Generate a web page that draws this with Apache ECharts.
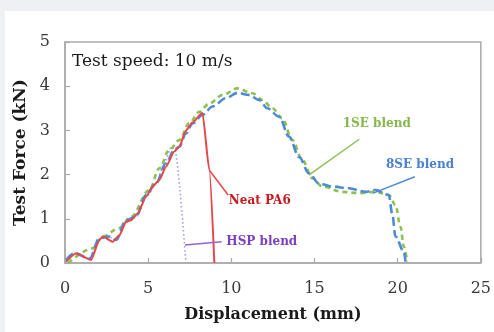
<!DOCTYPE html>
<html>
<head>
<meta charset="utf-8">
<script src="https://cdn.jsdelivr.net/npm/echarts@6/dist/echarts.min.js"></script>
<style>
  html, body { margin: 0; padding: 0; }
  #chart { width: 494px; height: 332px; }
</style>
</head>
<body>
<div id="chart"></div>
<script>
// Neat PA6 (red, solid)
const neatX = [0.07, 0.67, 1.57, 2.07, 2.27, 2.87, 3.27, 3.67, 3.97, 4.37, 4.87, 5.27, 5.67, 6.07, 6.57, 6.87, 7.27, 7.67, 8.26, 8.68, 8.98];
const neatY = [0.03, 0.22, 0.07, 0.52, 0.60, 0.48, 0.63, 0.93, 0.97, 1.12, 1.50, 1.73, 1.88, 2.18, 2.52, 2.63, 3.00, 3.18, 3.40, 2.10, 0];

// HSP blend (purple, dotted)
const hspX = [0.07, 0.6, 1.5, 2.1, 2.7, 3.1, 3.7, 4.3, 4.9, 5.5, 6.0, 6.4, 6.6, 7.27];
const hspY = [0.05, 0.2, 0.1, 0.55, 0.58, 0.52, 0.95, 1.05, 1.5, 1.8, 2.3, 2.63, 2.56, 0];

// 1SE blend (green, dashed)
const se1X = [0.2, 1.67, 2.27, 3.27, 3.97, 5.07, 5.67, 6.27, 6.87, 7.47, 8.07, 8.67, 9.47, 10.37, 11.27, 11.87, 12.47, 13.07, 13.67, 14.27, 14.87, 15.47, 16.67, 17.67, 18.67, 19.47, 19.87, 20.17, 20.37, 20.57];
const se1Y = [0, 0.33, 0.60, 0.79, 1.05, 1.65, 2.14, 2.56, 2.78, 3.16, 3.42, 3.61, 3.80, 3.95, 3.84, 3.69, 3.50, 3.27, 2.78, 2.33, 1.92, 1.73, 1.61, 1.58, 1.61, 1.54, 1.31, 0.82, 0.37, 0.03];

// 8SE blend (blue, dashed)
const se8X = [0.07, 0.57, 1.47, 2.07, 2.67, 3.07, 3.67, 4.27, 4.87, 5.47, 6.07, 6.57, 6.87, 7.27, 7.67, 8.27, 8.87, 9.67, 10.37, 11.07, 11.67, 12.17, 12.87, 13.47, 14.07, 14.67, 15.27, 16.07, 17.07, 18.07, 18.67, 19.47, 19.67, 19.87, 20.37, 20.47];
const se8Y = [0.07, 0.22, 0.10, 0.56, 0.60, 0.52, 0.97, 1.05, 1.54, 1.80, 2.25, 2.56, 2.63, 2.93, 3.16, 3.35, 3.54, 3.73, 3.85, 3.80, 3.69, 3.50, 3.31, 2.86, 2.40, 2.03, 1.80, 1.73, 1.69, 1.61, 1.65, 1.54, 1.12, 0.60, 0.26, 0.03];

const xTicks = [0, 5, 10, 15, 20, 25];
const yTicks = [0, 1, 2, 3, 4, 5];

// annotations in data coordinates
const labels = [
    { text: 'Test speed: 10 m/s', x: 0.42, y: 4.55, color: '#1a1a1a', bold: false, size: 17 },
    { text: '1SE blend', x: 16.7, y: 3.15, color: '#84b94a', bold: true, size: 12 },
    { text: '8SE blend', x: 19.3, y: 2.23, color: '#4a80d2', bold: true, size: 12 },
    { text: 'Neat PA6', x: 9.85, y: 1.40, color: '#c8191f', bold: true, size: 12 },
    { text: 'HSP blend', x: 9.7, y: 0.48, color: '#7b3fc2', bold: true, size: 12 }
];
const leaders = [
    { from: [14.66, 1.99], to: [17.69, 2.80], color: '#8cc152' },
    { from: [18.53, 1.58], to: [21.03, 1.95], color: '#4f8ad6' },
    { from: [8.68, 2.10], to: [9.81, 1.54], color: '#e8474a' },
    { from: [7.21, 0.41], to: [9.42, 0.48], color: '#9a5fd6' }
];

const zip = (xs, ys) => xs.map((x, i) => [x, ys[i]]);
const font = 'DejaVu Serif';

const chart = echarts.init(document.getElementById('chart'));

const axisCommon = {
    axisLine: { show: true, lineStyle: { color: '#aaaaaa', width: 1.5 } },
    axisTick: { show: true, inside: true, length: 5, lineStyle: { color: '#aaaaaa', width: 1.2 } },
    splitLine: { show: false },
    axisLabel: { color: '#3a3a3a', fontFamily: font, fontSize: 16 },
    nameTextStyle: { color: '#1a1a1a', fontFamily: font, fontWeight: 'bold', fontSize: 16 }
};

chart.setOption({
    backgroundColor: '#eef0f3',
    animation: false,
    grid: {
        left: 65, top: 42, right: 13, bottom: 69,
        show: true, borderColor: '#aaaaaa', borderWidth: 1.5, backgroundColor: '#ffffff'
    },
    xAxis: Object.assign({}, axisCommon, {
        type: 'value', min: 0, max: 25, interval: 5,
        name: 'Displacement (mm)', nameLocation: 'middle', nameGap: 44,
        axisLabel: Object.assign({}, axisCommon.axisLabel, { margin: 18, formatter: v => xTicks.includes(v) ? String(v) : '' })
    }),
    yAxis: Object.assign({}, axisCommon, {
        type: 'value', min: 0, max: 5, interval: 1,
        name: 'Test Force (kN)', nameLocation: 'middle', nameGap: 34,
        nameTextStyle: Object.assign({}, axisCommon.nameTextStyle, { fontSize: 17 }),
        axisLabel: Object.assign({}, axisCommon.axisLabel, { margin: 15, formatter: v => yTicks.includes(v) ? String(v) : '' })
    }),
    series: [
        {
            name: 'HSP blend', type: 'line', data: zip(hspX, hspY), symbol: 'none',
            smooth: 0.25, smoothMonotone: 'x',
            lineStyle: { color: '#a99be0', width: 1.6, type: [1.5, 2.5] }
        },
        {
            name: '1SE blend', type: 'line', data: zip(se1X, se1Y), symbol: 'none',
            smooth: 0.35, smoothMonotone: 'x',
            lineStyle: { color: '#8cc152', width: 2.6, type: [5, 4] }
        },
        {
            name: '8SE blend', type: 'line', data: zip(se8X, se8Y), symbol: 'none',
            smooth: 0.35, smoothMonotone: 'x',
            lineStyle: { color: '#4f8ad6', width: 2.6, type: [9, 4] }
        },
        {
            name: 'Neat PA6', type: 'line', data: zip(neatX, neatY), symbol: 'none',
            smooth: 0.2, smoothMonotone: 'x',
            lineStyle: { color: '#e8474a', width: 2 }
        }
    ]
});

// annotations positioned through the chart's own scales
const px = p => chart.convertToPixel({ gridIndex: 0 }, p);
const graphics = [
    { type: 'rect', shape: { x: 5, y: 11, width: 489, height: 321 }, style: { fill: '#ffffff' }, z: -10, silent: true }
];
leaders.forEach(l => {
    const a = px(l.from), b = px(l.to);
    graphics.push({
        type: 'line', shape: { x1: a[0], y1: a[1], x2: b[0], y2: b[1] },
        style: { stroke: l.color, lineWidth: 1.5 }, z: 10
    });
});
labels.forEach(t => {
    const p = px([t.x, t.y]);
    graphics.push({
        type: 'text', x: p[0], y: p[1], z: 10,
        style: {
            text: t.text, fill: t.color, fontFamily: font, fontSize: t.size,
            fontWeight: t.bold ? 'bold' : 'normal', verticalAlign: 'middle', align: 'left'
        }
    });
});
chart.setOption({ graphic: graphics });
</script>
</body>
</html>
